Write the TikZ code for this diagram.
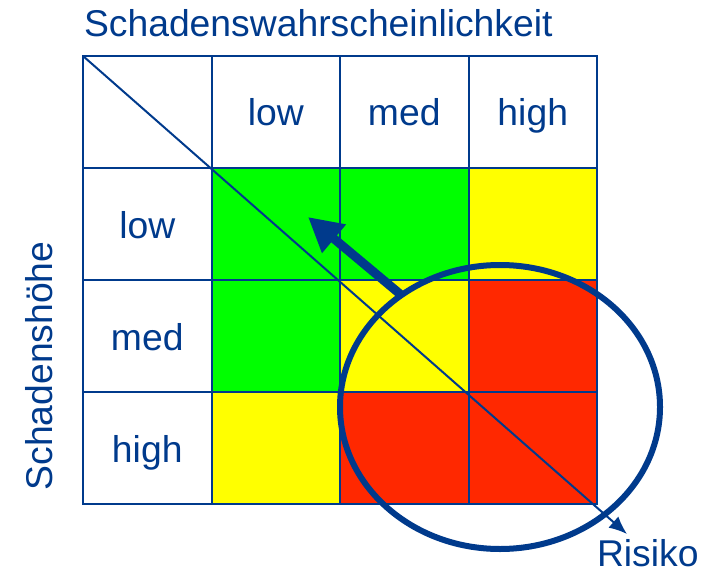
\documentclass[tikz,border=0pt]{standalone}
\usepackage{fontspec}
\setmainfont{Liberation Sans}
\usetikzlibrary{arrows.meta,shapes.geometric}
\definecolor{dblue}{RGB}{0,58,140}
\definecolor{rgreen}{RGB}{0,255,0}
\definecolor{ryellow}{RGB}{255,255,0}
\definecolor{rred}{RGB}{255,40,0}
\begin{document}
\begin{tikzpicture}[x=1pt,y=-1pt,
  cell/.style={draw=dblue, line width=2pt, minimum width=128.5pt, minimum height=112pt,
    inner sep=0pt, outer sep=0pt, text=dblue, font=\fontsize{37.3}{44}\selectfont,
    text height=28pt, text depth=0pt},
  lbl/.style={text=dblue, font=\fontsize{37.3}{44}\selectfont, inner sep=0pt, outer sep=0pt},
  thinarrow/.style={draw=dblue, line width=2pt, -{Latex[length=18pt,width=15pt]}},
  thickarrow/.style={draw=dblue, line width=9pt, -{Triangle[length=34pt,width=35pt]}},
  zonestyle/.style={ellipse, draw=dblue, line width=6pt, minimum width=320pt,
    minimum height=284pt, inner sep=0pt, outer sep=0pt}]
\useasboundingbox (0,0) rectangle (711,569);
% header row
\node[cell] (c00) at (147.25,112) {};
\node[cell] (c01) at (275.75,112) {low};
\node[cell] (c02) at (404.25,112) {med};
\node[cell] (c03) at (532.75,112) {high};
% row low
\node[cell] (c10) at (147.25,224) {low};
\node[cell, fill=rgreen] (c11) at (275.75,224) {};
\node[cell, fill=rgreen] (c12) at (404.25,224) {};
\node[cell, fill=ryellow] (c13) at (532.75,224) {};
% row med
\node[cell] (c20) at (147.25,336) {med};
\node[cell, fill=rgreen] (c21) at (275.75,336) {};
\node[cell, fill=ryellow] (c22) at (404.25,336) {};
\node[cell, fill=rred] (c23) at (532.75,336) {};
% row high
\node[cell] (c30) at (147.25,448) {high};
\node[cell, fill=ryellow] (c31) at (275.75,448) {};
\node[cell, fill=rred] (c32) at (404.25,448) {};
\node[cell, fill=rred] (c33) at (532.75,448) {};
% labels
\node[lbl, anchor=base west] (title) at (84,37) {Schadenswahrscheinlichkeit};
\node[lbl, anchor=base, rotate=90] (ylabel) at (52,366) {Schadenshöhe};
\node[lbl, anchor=base west] (risk) at (597,566) {Risiko};
% diagonal risk arrow
\coordinate (riskend) at (627,534);
\draw[thinarrow] (c00.north west) -- (riskend);
% ellipse zone
\node[zonestyle] (zone) at (500,407) {};
% thick arrow
\coordinate (tail) at (400,294);
\coordinate (tip) at (308,217);
\draw[thickarrow] (tail) -- (tip);
\end{tikzpicture}
\end{document}
